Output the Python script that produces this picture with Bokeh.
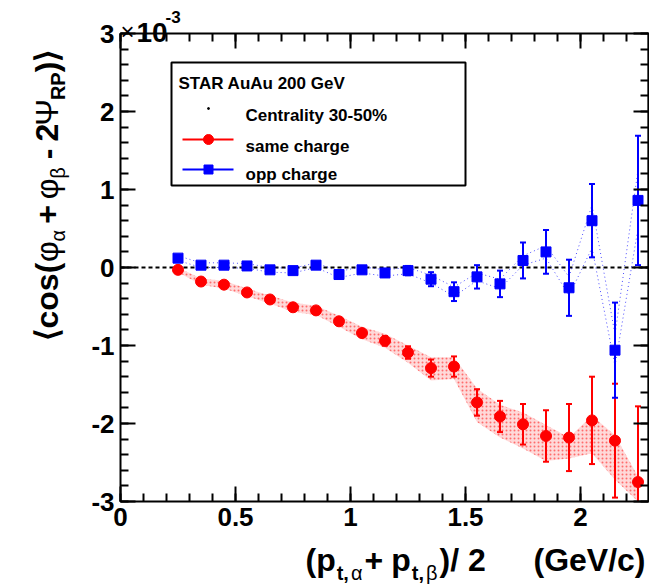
import numpy as np
from bokeh.plotting import figure
from bokeh.models import (Range1d, FixedTicker, LinearAxis, Label, BoxAnnotation)
from bokeh.embed import file_html
from bokeh.resources import INLINE

# ---------------- data (values in units of 1e-3) ----------------
pt = [0.25, 0.35, 0.45, 0.55, 0.65, 0.75, 0.85, 0.95, 1.05, 1.15, 1.25,
      1.35, 1.45, 1.55, 1.65, 1.75, 1.85, 1.95, 2.05, 2.15, 2.25]

same_val = [-0.03, -0.18, -0.22, -0.32, -0.41, -0.51, -0.55, -0.69, -0.84, -0.94, -1.09,
            -1.29, -1.27, -1.73, -1.91, -2.01, -2.16, -2.18, -1.96, -2.22, -2.75]
same_err = [0.02, 0.02, 0.02, 0.02, 0.02, 0.02, 0.03, 0.04, 0.05, 0.06, 0.08,
            0.11, 0.13, 0.17, 0.20, 0.26, 0.33, 0.43, 0.56, 0.73, 0.97]
same_sys_hi = [0.00, -0.14, -0.17, -0.27, -0.36, -0.45, -0.49, -0.62, -0.76, -0.85, -1.00,
               -1.15, -1.15, -1.55, -1.76, -1.86, -2.02, -2.18, -1.90, -2.15, -2.68]
same_sys_lo = [-0.06, -0.22, -0.27, -0.37, -0.46, -0.57, -0.61, -0.76, -0.92, -1.03, -1.22,
               -1.45, -1.43, -1.98, -2.18, -2.32, -2.48, -2.45, -2.38, -2.72, -3.10]

opp_val = [0.12, 0.03, 0.03, 0.02, -0.03, -0.04, 0.03, -0.09, -0.03, -0.07, -0.04,
           -0.15, -0.31, -0.12, -0.21, 0.09, 0.20, -0.26, 0.60, -1.06, 0.86]
opp_err = [0.02, 0.02, 0.02, 0.02, 0.02, 0.02, 0.03, 0.03, 0.04, 0.05, 0.06,
           0.09, 0.12, 0.15, 0.17, 0.23, 0.28, 0.36, 0.47, 0.61, 0.83]
opp_sys_hi = [0.15, 0.06, 0.06, 0.05, 0.00, -0.01, 0.06, -0.05, 0.01, -0.03, 0.00,
              -0.10, -0.25, -0.07, -0.15, 0.15, 0.28, -0.12, 0.80, -0.86, 1.25]
opp_sys_lo = [0.09, 0.00, 0.00, -0.01, -0.06, -0.07, 0.00, -0.13, -0.07, -0.11, -0.08,
              -0.20, -0.37, -0.17, -0.27, 0.03, 0.12, -0.36, 0.25, -1.26, 0.50]

x_tick_vals = [0, 0.5, 1, 1.5, 2]
x_tick_labels = ["0", "0.5", "1", "1.5", "2"]
y_tick_vals = [-3, -2, -1, 0, 1, 2, 3]
y_tick_labels = ["-3", "-2", "-1", "0", "1", "2", "3"]

legend_title = "STAR  AuAu 200 GeV"
legend_centrality = "Centrality 30-50%"
legend_same = "same charge"
legend_opp = "opp charge"

RED = "#ff0000"
BLUE = "#0000ff"
FONT = "Liberation Sans"

# ---------------- geometry ----------------
W, H = 649, 584
X0, X_END = 0.0, 2.295          # plotted axis range
Y0, Y1 = -3.0, 3.0
SX, SY = 230.0, 78.0            # px per unit
LEFT_PX, TOP_PX = 120, 33       # where the axis box sits on the canvas

def dx(px_):
    return X0 + (px_ - LEFT_PX) / SX

def dy(py_):
    return Y1 - (py_ - TOP_PX) / SY

p = figure(width=W, height=H, output_backend="svg", toolbar_location=None,
           x_range=Range1d(dx(0), dx(W)), y_range=Range1d(dy(H), dy(0)),
           min_border=0)
p.grid.visible = False
p.outline_line_color = None
p.background_fill_color = "white"
p.border_fill_color = "white"

x_minor = list(np.round(np.arange(X0, X_END + 1e-9, 0.1), 3))
y_minor = list(np.round(np.arange(Y0, Y1 + 1e-9, 0.2), 3))

def style_axis(ax, ticks, minor, labels, loc):
    ax.ticker = FixedTicker(ticks=ticks, minor_ticks=minor)
    ax.fixed_location = loc
    ax.axis_line_color = None
    ax.major_tick_in = 15
    ax.major_tick_out = 0
    ax.minor_tick_in = 8
    ax.minor_tick_out = 0
    ax.major_tick_line_width = 2
    ax.minor_tick_line_width = 2
    ax.major_label_overrides = dict(zip(ticks, labels))
    ax.major_label_text_font = FONT
    ax.major_label_text_font_style = "bold"
    ax.major_label_text_font_size = "26px"
    ax.major_label_text_color = "black"
    ax.major_label_standoff = 6

style_axis(p.xaxis[0], x_tick_vals, x_minor, x_tick_labels, Y0)
style_axis(p.yaxis[0], y_tick_vals, y_minor, y_tick_labels, X0)
top_ax = LinearAxis()
right_ax = LinearAxis()
style_axis(top_ax, x_tick_vals, x_minor, [""] * len(x_tick_vals), Y1)
style_axis(right_ax, y_tick_vals, y_minor, [""] * len(y_tick_vals), X_END)
p.add_layout(top_ax, "above")
p.add_layout(right_ax, "right")

# axis box
p.add_layout(BoxAnnotation(left=X0, right=X_END, bottom=Y0, top=Y1,
                           fill_color=None, line_color="black", line_alpha=1.0,
                           line_width=2, level="guide"))

# zero line
p.line([X0, X_END], [0, 0], line_color="black", line_dash="4 3", line_width=2)

# systematic bands (clipped to the axis box)
same_lo_c = list(np.clip(same_sys_lo, Y0, Y1))
same_hi_c = list(np.clip(same_sys_hi, Y0, Y1))
p.varea(x=pt, y1=same_lo_c, y2=same_hi_c, fill_color=RED, fill_alpha=0.15,
        hatch_pattern="dot", hatch_color=RED, hatch_scale=4, hatch_alpha=0.5)
p.line(pt, opp_sys_hi, line_color=BLUE, line_dash="1 3", line_width=1, line_alpha=0.7)
p.line(pt, opp_sys_lo, line_color=BLUE, line_dash="1 3", line_width=1, line_alpha=0.7)

# statistical error bars
def bars(val, err, color):
    up = np.array(val) + np.array(err)
    dn = np.array(val) - np.array(err)
    upc, dnc = np.clip(up, Y0, Y1), np.clip(dn, Y0, Y1)
    p.segment(x0=pt, y0=list(dnc), x1=pt, y1=list(upc), line_color=color, line_width=2)
    ku = up <= Y1
    kd = dn >= Y0
    p.scatter(list(np.array(pt)[ku]), list(up[ku]), marker="dash", size=6,
              line_color=color, line_width=2)
    p.scatter(list(np.array(pt)[kd]), list(dn[kd]), marker="dash", size=6,
              line_color=color, line_width=2)

bars(same_val, same_err, RED)
bars(opp_val, opp_err, BLUE)

# markers
p.scatter(pt, same_val, marker="circle", size=11, fill_color=RED, line_color=RED)
p.scatter(pt, opp_val, marker="square", size=10, fill_color=BLUE, line_color=BLUE)

# ---------------- legend (drawn by hand) ----------------
p.add_layout(BoxAnnotation(left=dx(171), right=dx(465), top=dy(62), bottom=dy(185),
                           fill_color=None, line_color="black", line_alpha=1.0,
                           line_width=2))

def text(px_, py_, s, size, bold=True, angle=0.0, align="left"):
    p.add_layout(Label(x=dx(px_), y=dy(py_), text=s, text_font=FONT,
                       text_font_size=f"{size}px",
                       text_font_style="bold" if bold else "normal",
                       text_color="black", angle=angle, text_align=align,
                       text_baseline="alphabetic"))

text(178, 83, legend_title, 17)
text(245, 115, legend_centrality, 17)
text(245, 146, legend_same, 17)
text(245, 174, legend_opp, 17)
p.scatter([dx(208)], [dy(108)], marker="circle", size=2, fill_color="black", line_color="black")
p.line([dx(182), dx(233)], [dy(139), dy(139)], line_color=RED, line_width=2)
p.scatter([dx(208)], [dy(139)], marker="circle", size=10, fill_color=RED, line_color=RED)
p.line([dx(182), dx(233)], [dy(169), dy(169)], line_color=BLUE, line_width=2)
p.scatter([dx(208)], [dy(169)], marker="square", size=9, fill_color=BLUE, line_color=BLUE)

# ---------------- x10^-3 multiplier ----------------
text(120, 31, "\u00d7", 24, bold=False)
text(136, 32, "10", 28)
text(165, 16, "-3", 17)

# ---------------- axis titles: pieces laid out one after another ----------------
# approximate advance widths (em) of the glyphs used
ADV = {'\u27e8': .40, '\u27e9': .40, 'c': .556, 'o': .611, 's': .556, '(': .333,
       ')': .333, '+': .584, '-': .333, '2': .556, ' ': .278, 'R': .722, 'P': .667,
       't': .333, ',': .278, 'p': .611, '/': .278, 'G': .778, 'e': .556, 'V': .667,
       '\u03c6': .64, '\u03b1': .58, '\u03b2': .575, '\u03a8': .80}

def advance(s, size):
    return sum(ADV.get(ch, .6) for ch in s) * size

MAIN, SUB = 32, 20

# y axis title (rotated, read bottom to top); (text, bold, subscript, gap before)
ROT = np.pi / 2
XM, XS = 46, 57
ypos = 340.0
for s, bold, sub, pre in [
        ("\u27e8cos(", True, False, 0),
        ("\u03c6", False, False, 0),
        ("\u03b1", False, True, 0),
        ("+", True, False, 6),
        ("\u03c6", False, False, 6),
        ("\u03b2", False, True, 0),
        ("-", True, False, 8),
        ("2", True, False, 7),
        ("\u03a8", False, False, -2),
        ("RP", True, True, 0),
        (")\u27e9", True, False, 0)]:
    size = SUB if sub else MAIN
    ypos -= pre
    text(XS if sub else XM, ypos, s, size, bold=bold, angle=ROT)
    ypos -= advance(s, size)

# x axis title
XB_M, XB_S = 559, 572
xpos = 305.0
for s, bold, sub, pre in [
        ("(p", True, False, 0),
        ("t,", True, True, 1),
        ("\u03b1", False, True, 2),
        ("+", True, False, 2),
        ("p", True, False, 8),
        ("t,", True, True, 1),
        ("\u03b2", False, True, 2),
        (")/ 2", True, False, 2)]:
    size = SUB if sub else MAIN
    xpos += pre
    text(xpos, XB_S if sub else XB_M, s, size, bold=bold)
    xpos += advance(s, size)
text(645, XB_M, "(GeV/c)", MAIN, bold=True, align="right")

open("out.html", "w").write(file_html(p, INLINE))
